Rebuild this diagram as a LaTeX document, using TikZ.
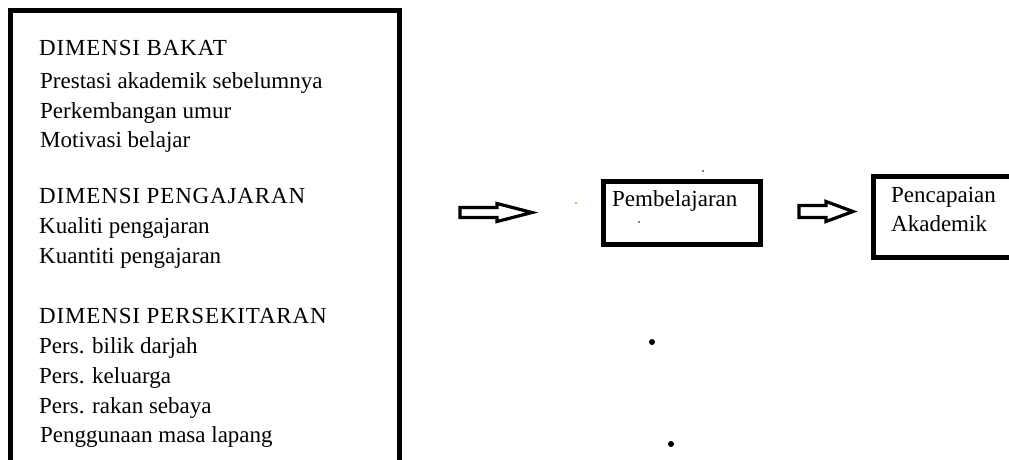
\documentclass[tikz,border=0pt]{standalone}
\usepackage{fontspec}
\setmainfont{Liberation Serif}
\newfontfamily\capsfont[LetterSpace=3.7]{Liberation Serif}
\begin{document}
\begin{tikzpicture}[x=1pt,y=-1pt,
  txt/.style={anchor=base west,inner sep=0pt,font=\fontsize{23}{28}\selectfont},
  captxt/.style={anchor=base west,inner sep=0pt,font=\capsfont\fontsize{23}{28}\selectfont},
  boxline/.style={draw=black,line width=5pt},
  blockarrow/.style={draw=black,line width=3.2pt,fill=white,line join=miter},
  speck/.style={fill=black,draw=none}]
\useasboundingbox (0,0) rectangle (1009,459);
\begin{scope}
\clip (0,0) rectangle (1009,459);
% left box
\draw[boxline] (10,10.5) rectangle (399.5,470);
% Pencapaian box
\draw[boxline] (873.5,176.5) rectangle (1020,257.5);
\end{scope}
% Pembelajaran box
\draw[boxline] (603.5,181.5) rectangle (760.5,244.5);

% left texts
\node[captxt] (t1) at (39,55) {DIMENSI BAKAT};
\node[txt] (t2) at (40,88) {Prestasi akademik sebelumnya};
\node[txt] (t3) at (40,118) {Perkembangan umur};
\node[txt] (t4) at (40,147) {Motivasi belajar};
\node[captxt] (t5) at (39,203) {DIMENSI PENGAJARAN};
\node[txt] (t6) at (39,233) {Kualiti pengajaran};
\node[txt] (t7) at (39,263) {Kuantiti pengajaran};
\node[captxt] (t8) at (39,323) {DIMENSI PERSEKITARAN};
\node[txt] (t9) at (39,353) {Pers. bilik darjah};
\node[txt] (t10) at (39,383) {Pers. keluarga};
\node[txt] (t11) at (39,413) {Pers. rakan sebaya};
\node[txt] (t12) at (40,442) {Penggunaan masa lapang};

% right texts
\node[txt] (p1) at (612,206) {Pembelajaran};
\node[txt] (c1) at (891,202) {Pencapaian};
\node[txt] (c2) at (891,231) {Akademik};

% block arrows
\draw[blockarrow] (460,207.5) -- (497,207.5) -- (497,203.5) -- (532,212.5)
  -- (497,221.5) -- (497,217.5) -- (460,217.5) -- cycle;
\draw[blockarrow] (799,205.5) -- (826,205.5) -- (826,201.5) -- (853,211.5)
  -- (826,221.5) -- (826,217.5) -- (799,217.5) -- cycle;

% specks and dots
\fill[orange!70!black] (576,203) circle (0.8);
\fill[speck] (703,171) circle (0.9);
\fill[speck] (639,222) circle (0.9);
\fill[speck] (652,342) circle (3);
\fill[speck] (671,444) circle (3);
\end{tikzpicture}
\end{document}
